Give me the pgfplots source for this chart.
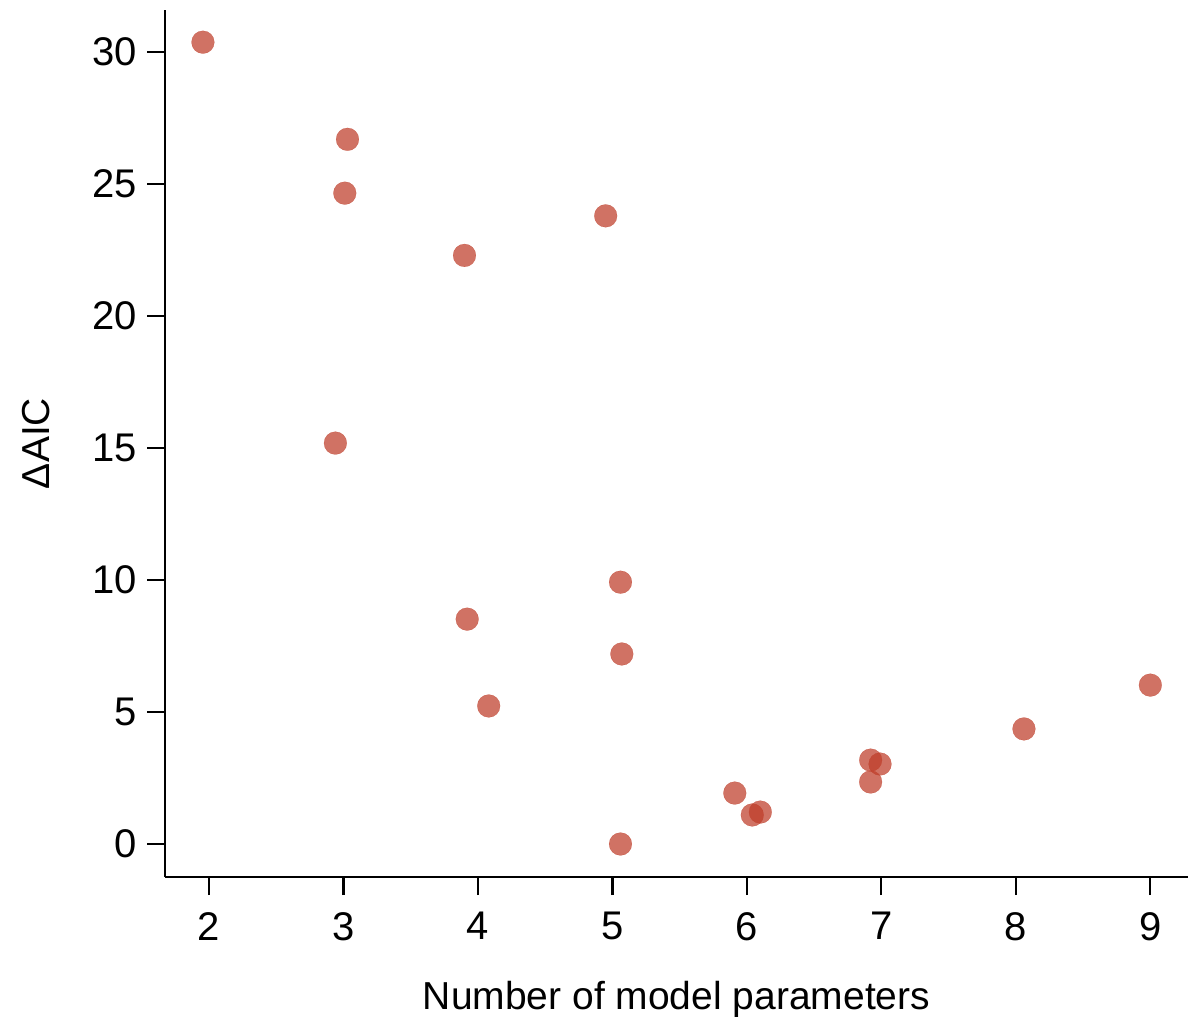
\documentclass[border=0pt]{standalone}
\usepackage{fontspec}
\setmainfont{Liberation Sans}
\usepackage{pgfplots}
\pgfplotsset{compat=1.18}
\definecolor{pt}{RGB}{190,60,40}
\begin{document}
\begin{tikzpicture}
\useasboundingbox (0,0) rectangle (599.5pt,508.5pt);
\begin{axis}[
  at={(82.5pt,70pt)}, anchor=south west,
  scale only axis, width=511.5pt, height=433.5pt,
  xmin=1.673, xmax=9.28, ymin=-1.25, ymax=31.6,
  axis x line*=bottom, axis y line*=left,
  axis line style={-, line width=1.1pt, black},
  xtick={2,...,9}, ytick={0,5,...,30},
  tick align=outside, major tick length=9pt,
  tick style={line width=1.1pt, black},
  /pgf/number format/assume math mode=true,
  tick label style={font=\fontsize{20}{24}\selectfont},
  xticklabel style={yshift=-5pt},
  yticklabel style={xshift=-1.5pt},
  xlabel={Number of model parameters},
  ylabel={ΔAIC},
  label style={font=\fontsize{19.5}{23}\selectfont},
  xlabel style={yshift=-13.5pt},
  ylabel style={yshift=14.5pt},
  clip=false,
]
\addplot[only marks, mark=*, mark size=5.7pt, color=pt, opacity=0.72, mark options={line width=0.1pt}] coordinates {
(1.955,30.38) (3.03,26.7) (3.01,24.66) (3.90,22.3) (4.95,23.8)
(2.94,15.19) (3.92,8.52) (5.06,9.92) (5.07,7.2) (4.08,5.23)
(5.06,0.0) (5.91,1.93) (6.04,1.1) (6.10,1.21) (6.92,3.18)
(6.99,3.03) (6.92,2.35) (8.06,4.36) (9.0,6.02)
};
\end{axis}
\end{tikzpicture}
\end{document}
